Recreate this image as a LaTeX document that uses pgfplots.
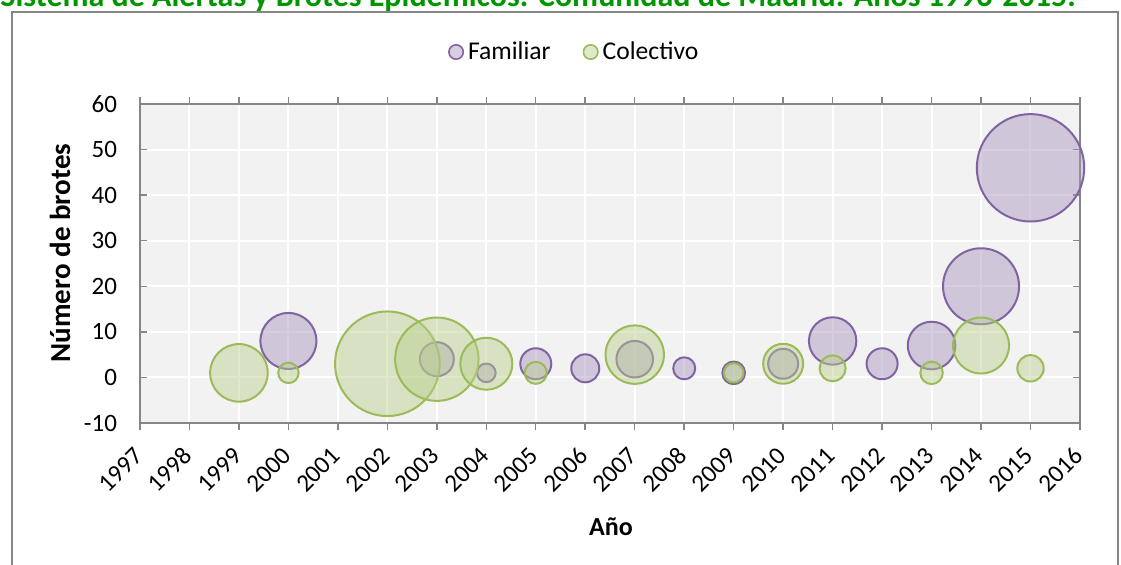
\documentclass[border=0pt]{standalone}
\usepackage{fontspec}
\setmainfont{Carlito}
\usepackage{pgfplots}
\usepackage{pgfplotstable}
\pgfplotsset{compat=1.18}

\definecolor{famline}{RGB}{128,100,162}
\definecolor{colline}{RGB}{155,187,89}
\definecolor{plotbg}{RGB}{242,242,242}
\definecolor{axgray}{RGB}{134,134,134}
\definecolor{titgreen}{RGB}{0,150,0}

% year, number of outbreaks, bubble radius (px in the source)
\pgfplotstableread{
year y r
2015 46 53.7
2014 20 38
2000 8 28
2011 8 23.7
2013 7 23.8
2007 4 18.3
2003 4 17
2005 3 15.5
2012 3 15.5
2010 3 15
2006 2 14
2009 1 11.3
2008 2 11
2004 1 9.3
}\familiar

\pgfplotstableread{
year y r
2002 3 52.3
2003 4 41.7
2007 5 29.2
1999 1 28.8
2014 7 28
2004 3 26
2010 3 20
2015 2 13.2
2011 2 13
2013 1 11.2
2005 1 11
2000 1 10.2
2009 1 9.7
}\colectivo

\begin{document}
\begin{tikzpicture}
\useasboundingbox (0,0) rectangle (560.5pt,-282.5pt);
\clip (0,0) rectangle (560.5pt,-282.5pt);
\node[anchor=base west, font=\fontsize{16}{18}\selectfont\bfseries, text=titgreen, inner sep=0]
  at (0pt,-3.5pt) {Sistema de Alertas y Brotes Epidémicos. Comunidad de Madrid. Años 1996-2015.};
\draw[axgray, line width=0.75pt] (6pt,-6pt) rectangle (559pt,-330pt);
\begin{axis}[
    at={(70pt,-211.5pt)}, anchor=south west,
    scale only axis, width=470pt, height=159.5pt,
    xmin=1997, xmax=2016, ymin=-10, ymax=60,
    xtick={1997,...,2016}, ytick={-10,0,...,60},
    axis background/.style={fill=plotbg},
    grid=major, grid style={white, line width=1pt},
    axis line style={axgray, line width=0.75pt},
    tick style={axgray, line width=0.75pt},
    major tick length=3.5pt,
    xtick align=outside, ytick align=inside,
    /pgf/number format/1000 sep={},
    /pgf/number format/assume math mode=true,
    ticklabel style={font=\fontsize{12.5}{14}\selectfont},
    xticklabel style={rotate=45, anchor=east, inner sep=1pt},
    xticklabel shift=10pt,
    yticklabel style={xshift=-8pt},
    ylabel={Número de brotes},
    ylabel style={font=\fontsize{14.5}{16}\selectfont\bfseries, at={(axis description cs:-0.085,0.533)}, anchor=center},
    xlabel={Año},
    xlabel style={font=\fontsize{13}{15}\selectfont\bfseries, at={(axis description cs:0.501,-0.326)}, anchor=center},
    legend style={at={(axis description cs:0.463,1)}, anchor=center, yshift=26pt,
      draw=none, fill=none, legend columns=2, font=\fontsize{12.8}{15}\selectfont,
      /tikz/every even column/.append style={column sep=14pt}},
]
\addplot[scatter, only marks, mark=*, line width=1pt,
  scatter/use mapped color={draw=famline, fill=famline!70!white, fill opacity=0.45},
  visualization depends on={\thisrow{r}/2 \as \rad},
  scatter/@pre marker code/.append style={/tikz/mark size=\rad},
  legend image code/.code={\draw[draw=famline, fill=famline!70!white, fill opacity=0.45, line width=0.8pt] (0.2cm,0) circle (3.6pt);}
] table[x=year, y=y] {\familiar};
\addlegendentry{Familiar}
\addplot[scatter, only marks, mark=*, line width=1pt,
  scatter/use mapped color={draw=colline, fill=colline!70!white, fill opacity=0.45},
  visualization depends on={\thisrow{r}/2 \as \rad},
  scatter/@pre marker code/.append style={/tikz/mark size=\rad},
  legend image code/.code={\draw[draw=colline, fill=colline!70!white, fill opacity=0.45, line width=0.8pt] (0.2cm,0) circle (3.6pt);}
] table[x=year, y=y] {\colectivo};
\addlegendentry{Colectivo}
\end{axis}
\end{tikzpicture}
\end{document}
